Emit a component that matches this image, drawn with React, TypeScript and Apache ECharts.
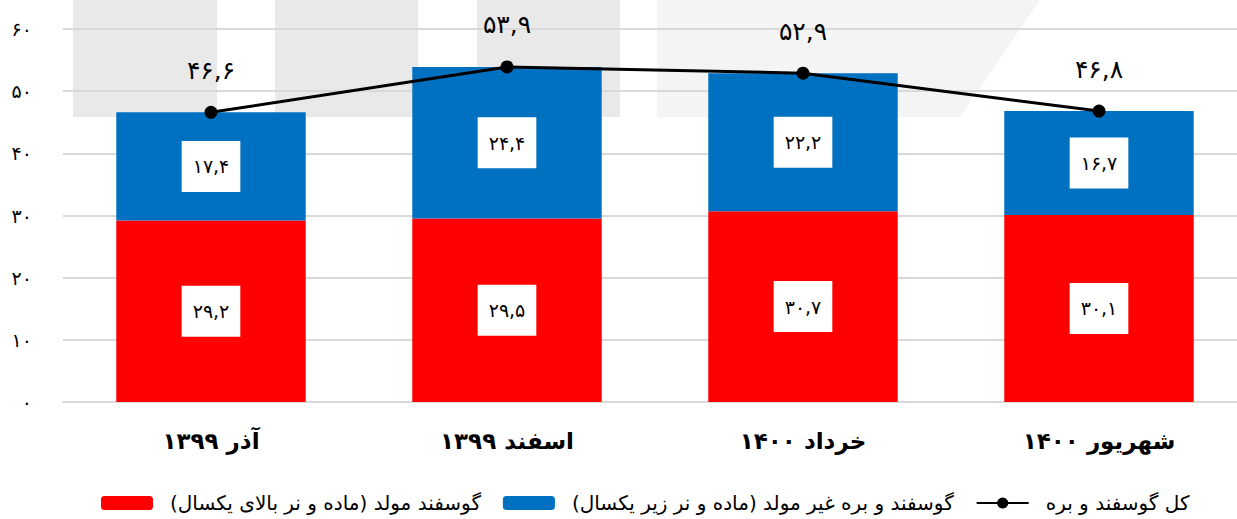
import React, { useEffect, useRef } from "react";
import * as echarts from "echarts";

const categories = ["آذر ۱۳۹۹", "اسفند ۱۳۹۹", "خرداد ۱۴۰۰", "شهریور ۱۴۰۰"];
const breedingValues = [29.2, 29.5, 30.7, 30.1];
const nonBreedingValues = [17.4, 24.4, 22.2, 16.7];
const totalValues = [46.6, 53.9, 52.9, 46.8];
const seriesNames = [
  "گوسفند مولد (ماده و نر بالای یکسال)",
  "گوسفند و بره غیر مولد (ماده و نر زیر یکسال)",
  "کل گوسفند و بره",
];

const FA = "۰۱۲۳۴۵۶۷۸۹";
const toFa = (s: string) => s.replace(/[0-9]/g, (d) => FA[Number(d)]).replace(".", ",");
const fmt1 = (v: number) => toFa(v.toFixed(1));

const FONT = "'DejaVu Sans', sans-serif";

export default function App() {
  const ref = useRef<HTMLDivElement>(null);
  useEffect(() => {
    if (!ref.current) return;
    const chart = echarts.init(ref.current, undefined, { renderer: "svg" });
    const boxLabel = {
      show: true,
      position: "inside",
      formatter: (p: any) => fmt1(p.value),
      backgroundColor: "#ffffff",
      color: "#000",
      fontSize: 19,
      fontFamily: FONT,
      padding: [17, 11, 15, 11],
    };
    chart.setOption({
      animation: false,
      backgroundColor: "#ffffff",
      textStyle: { fontFamily: FONT },
      graphic: [
        { type: "rect", silent: true, z: -10, shape: { x: 73, y: 0, width: 144, height: 117 }, style: { fill: "#e9e9e9" } },
        { type: "rect", silent: true, z: -10, shape: { x: 275, y: 0, width: 143, height: 117 }, style: { fill: "#e9e9e9" } },
        { type: "rect", silent: true, z: -10, shape: { x: 477, y: 0, width: 143, height: 117 }, style: { fill: "#e9e9e9" } },
        { type: "polygon", silent: true, z: -10, shape: { points: [[657, 0], [1040, 0], [960, 117], [657, 117]] }, style: { fill: "#f4f4f4" } },
      ],
      grid: { left: 63, right: -10, top: 29, bottom: 117, outerBoundsMode: "none", containLabel: false },
      legend: {
        bottom: 1,
        left: 96,
        itemWidth: 52,
        itemHeight: 14,
        itemGap: 22,
        textStyle: { fontSize: 20, color: "#000", fontFamily: FONT, padding: [0, 0, 0, 12] },
        data: seriesNames,
      },
      xAxis: {
        type: "category",
        data: categories,
        axisLine: { lineStyle: { color: "#d9d9d9", width: 2 } },
        axisTick: { show: false },
        axisLabel: { color: "#000", fontSize: 23, fontWeight: "bold", margin: 27, fontFamily: FONT },
      },
      yAxis: {
        type: "value",
        min: 0,
        max: 60,
        interval: 10,
        axisLine: { show: false },
        axisTick: { show: false },
        splitLine: { lineStyle: { color: "#d9d9d9", width: 2 } },
        axisLabel: { color: "#000", fontSize: 19, margin: 31, formatter: (v: number) => toFa(String(v)), fontFamily: FONT },
      },
      series: [
        {
          name: seriesNames[0],
          type: "bar",
          stack: "total",
          barWidth: "64%",
          data: breedingValues,
          itemStyle: { color: "#ff0000" },
          label: boxLabel,
        },
        {
          name: seriesNames[1],
          type: "bar",
          stack: "total",
          barWidth: "64%",
          data: nonBreedingValues,
          itemStyle: { color: "#0070c0" },
          label: boxLabel,
        },
        {
          name: seriesNames[2],
          type: "line",
          data: totalValues,
          symbol: "circle",
          symbolSize: 13,
          lineStyle: { color: "#000", width: 3 },
          itemStyle: { color: "#000" },
          label: {
            show: true,
            position: "top",
            distance: 23,
            color: "#000",
            fontSize: 25,
            fontFamily: FONT,
            formatter: (p: any) => fmt1(p.value),
          },
          z: 5,
        },
      ],
    });
    return () => chart.dispose();
  }, []);
  return <div ref={ref} style={{ position: "fixed", left: 0, top: 0, width: 1237, height: 519 }} />;
}
